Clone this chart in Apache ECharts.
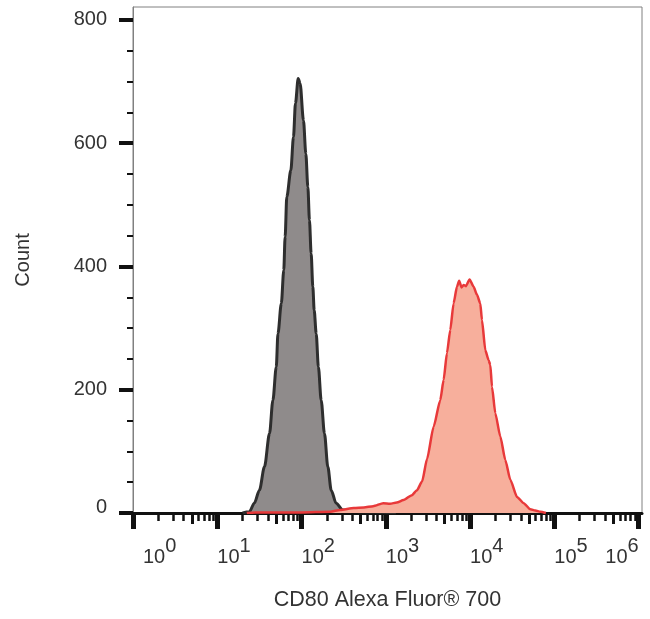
<!DOCTYPE html>
<html>
<head>
<meta charset="utf-8">
<script src="https://cdn.jsdelivr.net/npm/echarts@6/dist/echarts.min.js"></script>
<style>
  html, body { margin: 0; padding: 0; background: #fff; }
  #main { width: 650px; height: 619px; }
</style>
</head>
<body>
<div id="main"></div>
<script>
// x values are log10 of the fluorescence intensity
const grayLogX = [1.30, 1.38, 1.44, 1.50, 1.56, 1.62, 1.66, 1.70, 1.72, 1.76, 1.789, 1.805, 1.825, 1.873, 1.904, 1.928, 1.96, 1.983, 2.023, 2.051, 2.075, 2.094, 2.114, 2.134, 2.150, 2.174, 2.20, 2.233, 2.272, 2.312, 2.352, 2.41, 2.49, 2.70, 3.02, 3.12]
const grayCount = [0, 2, 16, 37, 75, 129, 183, 237, 291, 340, 394, 448, 513, 556, 610, 665, 705, 697, 637, 583, 529, 475, 421, 367, 329, 291, 237, 183, 129, 75, 37, 16, 5, 2, 1, 0]

const redLogX = [1.35, 1.45, 2.0, 2.34, 2.46, 2.62, 2.74, 2.85, 2.97, 3.05, 3.13, 3.21, 3.31, 3.37, 3.43, 3.49, 3.567, 3.646, 3.686, 3.725, 3.765, 3.804, 3.844, 3.87, 3.90, 3.923, 3.95, 3.994, 4.042, 4.082, 4.121, 4.141, 4.181, 4.22, 4.24, 4.26, 4.299, 4.359, 4.418, 4.477, 4.557, 4.636, 4.715, 4.774, 4.834, 4.90]
const redCount = [0, 1, 1, 2, 5, 8, 9, 11, 16, 15, 17, 21, 29, 37, 51, 88, 140, 183, 216, 259, 297, 340, 367, 377, 366, 370, 368, 379, 367, 354, 340, 313, 264, 248, 240, 205, 162, 124, 86, 54, 26, 16, 6, 4, 2, 0]

const decades = [0, 1, 2, 3, 4, 5, 6]
const minorFactors = [2, 3, 4, 6, 7, 8, 9]
const midFactors = [5]
const yTicks = [0, 200, 400, 600, 800]
const yMinorTicks = [50, 100, 150, 250, 300, 350, 450, 500, 550, 650, 700, 750]

const logTicks = factors => {
  const out = []
  decades.slice(0, -1).forEach(d => factors.forEach(k => out.push(d + Math.log10(k))))
  return out
}
const pairs = (xs, ys) => xs.map((x, i) => [x, ys[i]])

const tickAxis = (values, len, width) => ({
  type: 'value',
  min: 0,
  max: 6.04,
  position: 'bottom',
  axisLine: { show: false },
  axisTick: { customValues: values, length: len, lineStyle: { color: '#111', width: width } },
  axisLabel: { show: false },
  splitLine: { show: false }
})

let mychart = echarts.init(document.getElementById('main'))
let option = {
  animation: false,
  grid: { left: 133, right: 8, top: 7, bottom: 106, show: true, borderColor: '#808080', borderWidth: 1 },
  xAxis: [{
    type: 'value',
    min: 0,
    max: 6.04,
    position: 'bottom',
    name: 'CD80 Alexa Fluor® 700',
    nameLocation: 'middle',
    nameGap: 76,
    nameTextStyle: { fontSize: 21.5, color: '#333', fontFamily: 'Liberation Sans' },
    axisLine: { show: true, lineStyle: { color: '#111', width: 3 } },
    axisTick: { customValues: decades, length: 16, lineStyle: { color: '#111', width: 5 } },
    axisLabel: {
      customValues: decades,
      margin: 23,
      align: 'left',
      alignMaxLabel: 'right',
      formatter: v => (v === 0 ? '{f|10}' : '{b|10}') + '{s|' + v + '}',
      rich: {
        b: { fontSize: 20, lineHeight: 42, color: '#333', fontFamily: 'Liberation Sans' },
        f: { fontSize: 20, lineHeight: 42, color: '#333', fontFamily: 'Liberation Sans', padding: [0, 0, 0, 10] },
        s: { fontSize: 20, lineHeight: 20, verticalAlign: 'top', color: '#333', fontFamily: 'Liberation Sans' }
      }
    },
    splitLine: { show: false }
  },
  tickAxis(logTicks(minorFactors), 8, 2.5),
  tickAxis(logTicks(midFactors), 11, 3)
  ],
  yAxis: [{
    type: 'value',
    min: 0,
    max: 821,
    position: 'left',
    name: 'Count',
    nameLocation: 'middle',
    nameGap: 100,
    nameTextStyle: { fontSize: 20, color: '#333', fontFamily: 'Liberation Sans' },
    axisLine: { show: true, lineStyle: { color: '#808080', width: 1 } },
    axisTick: { customValues: yTicks, length: 14, lineStyle: { color: '#111', width: 4 } },
    axisLabel: {
      customValues: yTicks,
      margin: 26,
      fontSize: 20,
      color: '#333',
      fontFamily: 'Liberation Sans',
      formatter: v => v === 0 ? '{z|0}' : String(v),
      rich: { z: { fontSize: 20, color: '#333', fontFamily: 'Liberation Sans', padding: [0, 0, 12, 0] } }
    },
    splitLine: { show: false }
  }, {
    type: 'value',
    min: 0,
    max: 821,
    position: 'left',
    axisLine: { show: false },
    axisTick: { customValues: yMinorTicks, length: 6, lineStyle: { color: '#111', width: 2 } },
    axisLabel: { show: false },
    splitLine: { show: false }
  }],
  series: [{
    name: 'control',
    type: 'line',
    data: pairs(grayLogX, grayCount),
    showSymbol: false,
    smooth: 0.3,
    smoothMonotone: 'x',
    lineStyle: { color: '#2e2e2e', width: 3 },
    areaStyle: { color: '#8f8b8b', opacity: 1 },
    z: 2
  }, {
    name: 'CD80',
    type: 'line',
    data: pairs(redLogX, redCount),
    showSymbol: false,
    smooth: 0.2,
    smoothMonotone: 'x',
    lineStyle: { color: '#e8393a', width: 2.5 },
    areaStyle: { color: '#f7af9c', opacity: 1 },
    z: 3
  }]
}
mychart.setOption(option)
</script>
</body>
</html>
